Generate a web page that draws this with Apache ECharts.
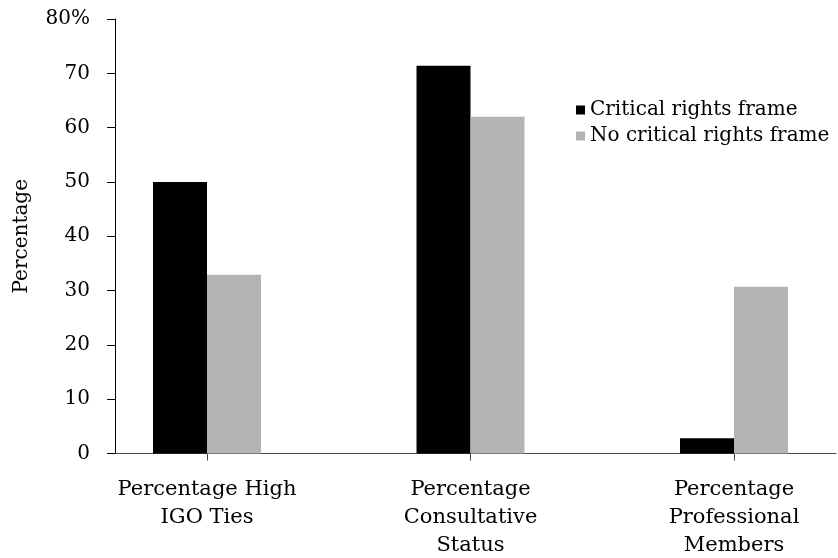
<!DOCTYPE html>
<html>
<head>
<meta charset="utf-8">
<script src="https://cdn.jsdelivr.net/npm/echarts@6/dist/echarts.min.js"></script>
<style>html,body{margin:0;padding:0;background:#fff;overflow:hidden}#c{width:838px;height:558px}</style>
</head>
<body>
<div id="c"></div>
<script>
const categories = ['Percentage High\nIGO Ties', 'Percentage\nConsultative\nStatus', 'Percentage\nProfessional\nMembers'];
const seriesNames = ['Critical rights frame', 'No critical rights frame'];
const criticalFrame = [50, 71.4, 2.8];
const noCriticalFrame = [32.9, 62, 30.7];
const yTicks = [0, 10, 20, 30, 40, 50, 60, 70, 80];

const FONT = 'DejaVu Serif';
const chart = echarts.init(document.getElementById('c'));
chart.setOption({
  animation: false,
  backgroundColor: '#fff',
  textStyle: { fontFamily: FONT, color: '#000' },
  legend: {
    orient: 'vertical', left: 571, top: 95, itemWidth: 9, itemHeight: 9, itemGap: 6,
    icon: 'rect',
    data: seriesNames,
    textStyle: { fontFamily: FONT, fontSize: 20, color: '#000', padding: [0, 0, 0, 0] }
  },
  grid: [
    { left: 75.25, width: 790.5, top: 19, height: 434.5, containLabel: false, outerBoundsMode: 'none' },
    { left: 115, width: 721, top: 19, height: 434.5, containLabel: false, outerBoundsMode: 'none' }
  ],
  xAxis: [
    {
      type: 'category', gridIndex: 0, data: categories, boundaryGap: true,
      axisLine: { show: false },
      axisTick: { show: true, alignWithLabel: true, length: 7, lineStyle: { color: '#444' } },
      axisLabel: { fontFamily: FONT, fontSize: 21, color: '#000', lineHeight: 28, margin: 22, interval: 0 }
    },
    {
      type: 'value', gridIndex: 1, min: 0, max: 1,
      axisLine: { show: true, lineStyle: { color: '#444', width: 1 } },
      axisTick: { show: false }, axisLabel: { show: false }, splitLine: { show: false }
    }
  ],
  yAxis: [
    {
      type: 'value', gridIndex: 1, min: yTicks[0], max: yTicks[yTicks.length - 1], interval: 10,
      name: 'Percentage', nameLocation: 'middle', nameRotate: 90, nameGap: 83,
      nameTextStyle: { fontFamily: FONT, fontSize: 20, color: '#000' },
      axisLine: { show: true, lineStyle: { color: '#000', width: 1 } },
      axisTick: { show: true, inside: false, length: 8, lineStyle: { color: '#000' } },
      axisLabel: { fontFamily: FONT, fontSize: 20, color: '#000', margin: 25,
        formatter: v => v === 80 ? '80%' : String(v) },
      splitLine: { show: false }
    },
    {
      type: 'value', gridIndex: 0, min: 0, max: 80, show: false, splitLine: { show: false }
    }
  ],
  series: [
    { name: seriesNames[0], type: 'bar', xAxisIndex: 0, yAxisIndex: 1, data: criticalFrame,
      barWidth: 54, barGap: '0%', itemStyle: { color: '#000' } },
    { name: seriesNames[1], type: 'bar', xAxisIndex: 0, yAxisIndex: 1, data: noCriticalFrame,
      barWidth: 54, barGap: '0%', itemStyle: { color: '#b3b3b3' } }
  ]
});
</script>
</body>
</html>
